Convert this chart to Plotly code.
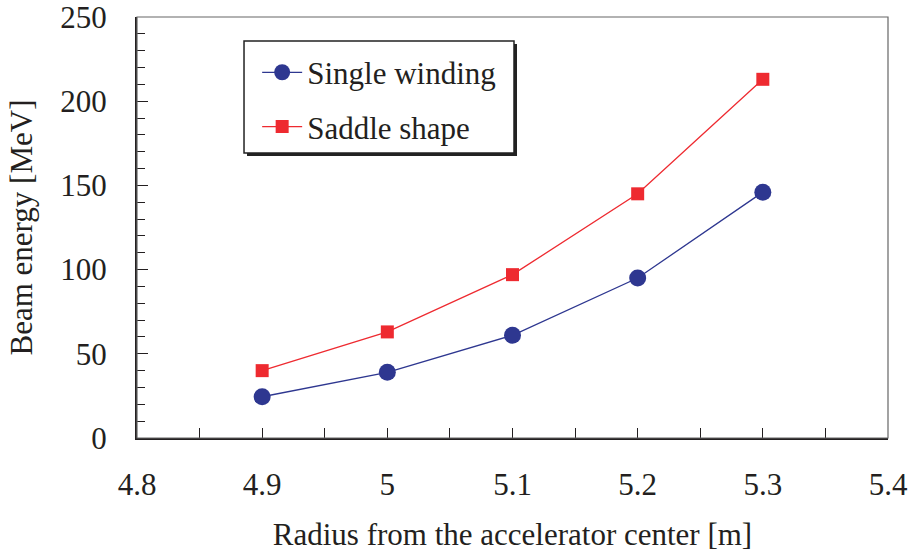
import plotly.graph_objects as go

radius = [4.9, 5.0, 5.1, 5.2, 5.3]
single_winding = [24.5, 39, 61, 95, 146]
saddle_shape = [40, 63, 97, 145, 213]

font_family = "Liberation Serif"
blue = "#2E3790"
red = "#EE2A30"
fs = 31

fig = go.Figure()
fig.add_trace(go.Scatter(
    x=radius, y=single_winding, mode="lines+markers", name="Single winding",
    legendgroup="a",
    line=dict(color=blue, width=1.3),
    marker=dict(symbol="circle", size=17, color=blue),
))
fig.add_trace(go.Scatter(
    x=radius, y=saddle_shape, mode="lines+markers", name="Saddle shape",
    legendgroup="b",
    line=dict(color=red, width=1.3),
    marker=dict(symbol="square", size=13, color=red),
))

# legend shadow and box (paper coords; plot spans x 137..888, y 17..438)
fig.add_shape(type="rect", xref="paper", yref="paper",
              x0=0.1465, x1=0.506, y0=0.670, y1=0.936,
              fillcolor="#222222", line=dict(width=0), layer="below")
fig.add_shape(type="rect", xref="paper", yref="paper",
              x0=0.1425, x1=0.502, y0=0.677, y1=0.943,
              fillcolor="white", line=dict(color="#222222", width=1.5), layer="below")
# frame top/right
fig.add_shape(type="rect", xref="paper", yref="paper", x0=0, x1=1, y0=0, y1=1,
              line=dict(color="#666666", width=1.2))

fig.update_layout(
    width=911, height=554,
    margin=dict(l=137, r=23, t=17, b=116, autoexpand=False),
    paper_bgcolor="white", plot_bgcolor="white",
    font=dict(family=font_family, size=fs, color="#231f20"),
    showlegend=True,
    legend=dict(
        x=0.16, y=0.932, xanchor="left", yanchor="top",
        bgcolor="rgba(0,0,0,0)", borderwidth=0,
        font=dict(size=fs, family=font_family),
        tracegroupgap=11, traceorder="grouped",
        itemwidth=40,
    ),
    xaxis=dict(
        range=[4.8, 5.4], dtick=0.1, tick0=4.8,
        ticks="inside", ticklen=10, tickwidth=1.3, tickcolor="#231f20",
        showline=True, linecolor="#231f20", linewidth=2,
        showgrid=False, zeroline=False, automargin=False,
        tickfont=dict(size=fs, family=font_family),
        ticklabeloverflow="allow",
        minor=dict(dtick=0.05, ticks="inside", ticklen=10, tickwidth=1.3, tickcolor="#231f20"),
        title=dict(text="Radius from the accelerator center [m]", font=dict(size=fs, family=font_family), standoff=22),
        ticklabelstandoff=18,
    ),
    yaxis=dict(
        range=[0, 250], dtick=50,
        ticks="inside", ticklen=11, tickwidth=1.3, tickcolor="#231f20",
        showline=True, linecolor="#231f20", linewidth=2,
        showgrid=False, zeroline=False, automargin=False,
        tickfont=dict(size=fs, family=font_family),
        ticklabeloverflow="allow",
        minor=dict(dtick=10, ticks="inside", ticklen=8, tickwidth=1.3, tickcolor="#231f20"),
        title=dict(text="Beam energy [MeV]", font=dict(size=fs, family=font_family), standoff=18),
        ticklabelstandoff=22,
    ),
)

fig.write_html("out.html")
